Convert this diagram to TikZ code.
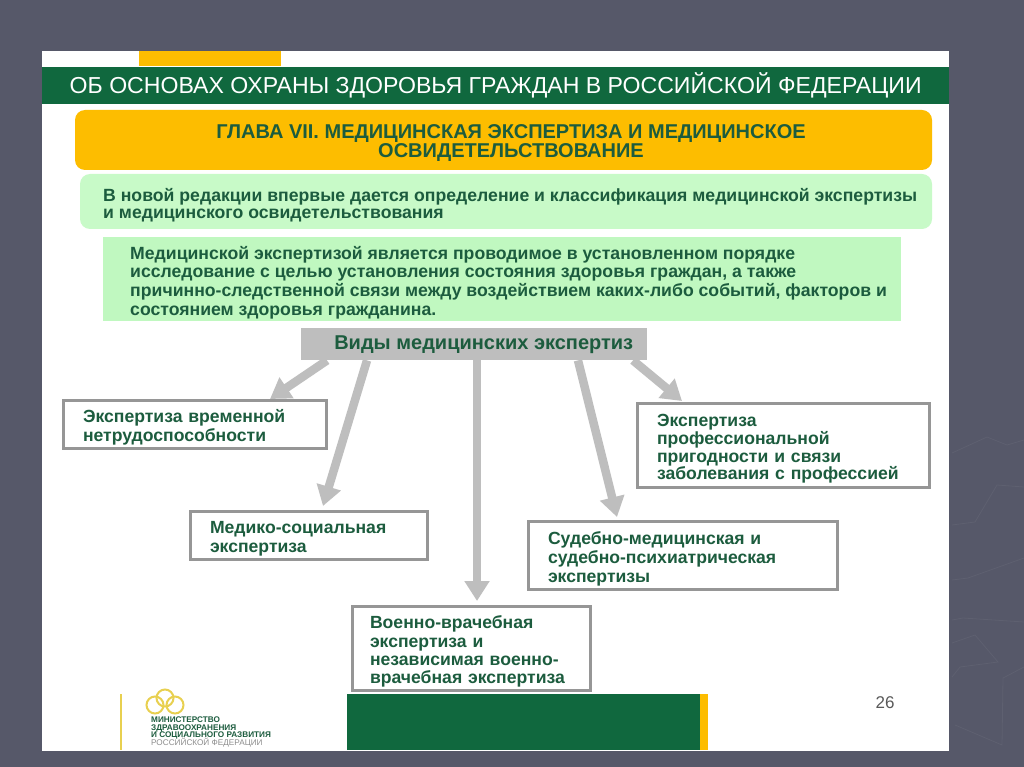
\documentclass[tikz,border=0pt]{standalone}
\usepackage{fontspec}
\setmainfont{Liberation Sans}
\usepackage{tikz}
\usetikzlibrary{arrows.meta}
\setlength{\normallineskiplimit}{-10pt}
\lineskiplimit=-10pt
\definecolor{slidegrey}{RGB}{86,88,105}
\definecolor{barGreen}{RGB}{16,104,62}
\definecolor{textgreen}{RGB}{28,92,62}
\definecolor{chapterorange}{RGB}{253,189,0}
\definecolor{palegreen}{RGB}{200,250,200}
\definecolor{paleboxgreen}{RGB}{192,248,192}
\definecolor{framegrey}{RGB}{150,150,150}
\definecolor{headgrey}{RGB}{190,190,190}
\definecolor{logoyellow}{RGB}{232,208,80}
\tikzset{
  kindbox/.style={draw=framegrey,line width=3pt,fill=white,anchor=north west,
    align=left,text=textgreen,inner ysep=0pt,
    execute at begin node={\rule{0pt}{19pt}}},
  kindarrow/.style={draw=headgrey,line width=8.5pt,
    -{Triangle[width=24pt,length=20pt]}},
  faintline/.style={slidegrey!95!white,line width=0.8pt},
}
\begin{document}
\begin{tikzpicture}[x=1pt,y=-1pt,inner sep=0pt]
    \useasboundingbox (0,0) rectangle (1024,767);
    \fill[slidegrey] (0,0) rectangle (1024,767);
    \draw[faintline] (952,453)--(987,437)--(1007,445)--(1024,440);
    \draw[faintline] (952,525)--(975,522)--(997,485)--(1024,487);
    \draw[faintline] (952,580)--(968,578)--(1024,558);
    \draw[faintline] (952,620)--(963,618)--(1024,622);
    \draw[faintline] (952,643)--(975,635)--(998,662)--(960,667)--(952,677);
    \draw[faintline] (1024,667)--(1003,678)--(1002,745)--(955,725);
    \fill[white] (42,51) rectangle (949,751);
    \fill[chapterorange] (139,51) rectangle (281,66);
    \node[fill=barGreen,anchor=north west,minimum width=907pt,minimum height=37pt,
      text=white,font=\fontsize{23.1}{26}\selectfont] (title) at (42,67)
      {ОБ ОСНОВАХ ОХРАНЫ ЗДОРОВЬЯ ГРАЖДАН В РОССИЙСКОЙ ФЕДЕРАЦИИ};
    \fill[chapterorange,rounded corners=10pt] (75,110) rectangle (932,170);
    \node[align=center,text=textgreen,
      font=\fontsize{20}{19.5}\selectfont\bfseries] (chapter) at (511,143)
      {ГЛАВА VII. МЕДИЦИНСКАЯ ЭКСПЕРТИЗА И МЕДИЦИНСКОЕ\\ОСВИДЕТЕЛЬСТВОВАНИЕ};
    \fill[palegreen,rounded corners=10pt] (80,174) rectangle (932,229);
    \node[anchor=west,align=left,text=textgreen,
      font=\fontsize{17.65}{17.5}\selectfont\bfseries] (novelty) at (103,205)
      {В новой редакции впервые дается определение и классификация медицинской экспертизы\\
       и медицинского освидетельствования};
    \fill[paleboxgreen] (103,237) rectangle (901,321);
    \node[anchor=west,align=left,text=textgreen,
      font=\fontsize{17.65}{18.6}\selectfont\bfseries] (definition) at (130,282.5)
      {Медицинской экспертизой является проводимое в установленном порядке\\
       исследование с целью установления состояния здоровья граждан, а также\\
       причинно-следственной связи между воздействием каких-либо событий, факторов и\\
       состоянием здоровья гражданина.};
    \node[fill=headgrey,anchor=north west,minimum width=346pt,minimum height=32pt,
      text=textgreen,font=\fontsize{20}{22}\selectfont\bfseries] (kinds) at (301,328)
      {\hspace*{19pt}Виды медицинских экспертиз};
    \node[kindbox,inner xsep=19.5pt,text width=224pt,minimum height=48pt,
      font=\fontsize{17.6}{19}\selectfont\bfseries] (temporary) at (62,399)
      {Экспертиза временной\\нетрудоспособности};
    \node[kindbox,inner xsep=19.5pt,text width=198pt,minimum height=48pt,
      font=\fontsize{17.6}{19}\selectfont\bfseries] (social) at (189,510)
      {Медико-социальная\\экспертиза};
    \node[kindbox,inner xsep=19.5pt,text width=270pt,minimum height=68pt,
      font=\fontsize{17.6}{19}\selectfont\bfseries] (forensic) at (527,520)
      {Судебно-медицинская и\\судебно-психиатрическая\\экспертизы};
    \node[kindbox,inner xsep=17.5pt,text width=203pt,minimum height=84pt,
      font=\fontsize{17.6}{18.3}\selectfont\bfseries] (military) at (351,605)
      {Военно-врачебная\\экспертиза и\\независимая военно-\\врачебная экспертиза};
    \node[kindbox,inner xsep=19.5pt,text width=253pt,minimum height=84pt,
      font=\fontsize{17.6}{17.7}\selectfont\bfseries] (professional) at (636,402)
      {Экспертиза\\профессиональной\\пригодности и связи\\заболевания с профессией};
    \coordinate (tiptemporary) at (270,399);
    \coordinate (tipsocial) at (323,506);
    \coordinate (tipmilitary) at (477,601);
    \coordinate (tipforensic) at (617,517);
    \coordinate (tipprofessional) at (682,401);
    \foreach \x/\target in {26/temporary,66/social,176/military,277/forensic,332/professional}
      \draw[kindarrow] ([xshift=\x pt]kinds.south west) -- (tip\target);
    \draw[logoyellow,line width=1.5pt] (121,694)--(121,750);
    \foreach \x/\y in {165/698,155/705,175/705}
      \draw[logoyellow,line width=2pt] (\x,\y) circle (8.5pt);
    \node[anchor=north west,align=left,text=textgreen,
      font=\fontsize{8.2}{7.4}\selectfont\bfseries] (ministry) at (151,717)
      {МИНИСТЕРСТВО\\ЗДРАВООХРАНЕНИЯ\\И СОЦИАЛЬНОГО РАЗВИТИЯ\\{\mdseries\color{black!45}РОССИЙСКОЙ ФЕДЕРАЦИИ}};
    \fill[barGreen] (347,694) rectangle (700,750);
    \fill[chapterorange] (700,694) rectangle (708,750);
    \node[text=black!65,font=\fontsize{17}{20}\selectfont] (page) at (885,703) {26};
  \end{tikzpicture}
\end{document}
